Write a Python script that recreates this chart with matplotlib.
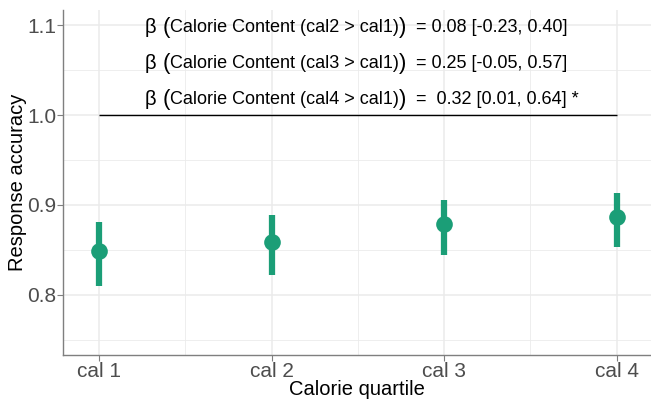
import matplotlib
matplotlib.use("Agg")
import matplotlib.pyplot as plt

categories = ["cal 1", "cal 2", "cal 3", "cal 4"]
means = [0.849, 0.859, 0.879, 0.887]
lower = [0.810, 0.822, 0.844, 0.853]
upper = [0.881, 0.889, 0.906, 0.913]
contrasts = ["cal2 > cal1", "cal3 > cal1", "cal4 > cal1"]
estimates = ["0.08 [-0.23, 0.40]", "0.25 [-0.05, 0.57]", " 0.32 [0.01, 0.64] *"]

plt.rcParams['font.family'] = ['Liberation Sans', 'DejaVu Sans']
fig = plt.figure(figsize=(6.51, 4.01), dpi=100)
ax = fig.add_axes([63/651, 1-355/401, (651-63)/651, (355-10)/401])

x = list(range(1, len(categories) + 1))
green = "#1B9E77"
ax.vlines(x, lower, upper, color=green, lw=4.5, zorder=3)
ax.plot(x, means, 'o', color=green, ms=12, zorder=4, mec='none')

ax.set_xlim(0.79, 4.2)
ax.set_ylim(0.733, 1.117)
ax.set_yticks([0.8, 0.9, 1.0, 1.1])
ax.set_yticks([0.75, 0.85, 0.95, 1.05], minor=True)
ax.set_xticks(x)
ax.set_xticklabels(categories)
ax.set_xticks([1.5, 2.5, 3.5], minor=True)
ax.grid(True, which='major', color='#EBEBEB', lw=1.1)
ax.grid(True, which='minor', color='#EBEBEB', lw=0.6)
ax.set_axisbelow(True)
for s in ['top', 'right']:
    ax.spines[s].set_visible(False)
for s in ['left', 'bottom']:
    ax.spines[s].set_color('#7F7F7F')
    ax.spines[s].set_linewidth(1.0)
ax.tick_params(which='major', length=4, color='#7F7F7F', labelsize=15, labelcolor='#4D4D4D', pad=1)
ax.tick_params(which='minor', length=0)
ax.set_xlabel("Calorie quartile", fontsize=14.5, labelpad=-1)
ax.set_ylabel("Response accuracy", fontsize=14.5, labelpad=0)

ax.hlines(1.0, 1, 4, color='black', lw=1.0, zorder=2)

fig.canvas.draw()
renderer = fig.canvas.get_renderer()
ys = [1.1, 1.06, 1.02]
for c, e, yv in zip(contrasts, estimates, ys):
    pieces = [("β ", 14.5), ("(", 16), ("Calorie Content (" + c + ")", 13.0), (")", 16), ("  = " + e, 13.0)]
    xpix = 145
    for txt, fs in pieces:
        ypix = ax.transData.transform((1, yv))[1]
        t = fig.text(xpix / 651, ypix / 401, txt, fontsize=fs, ha='left', va='center_baseline')
        fig.canvas.draw()
        bb = t.get_window_extent(renderer)
        xpix = bb.x1

fig.savefig("out.png", dpi=100)
